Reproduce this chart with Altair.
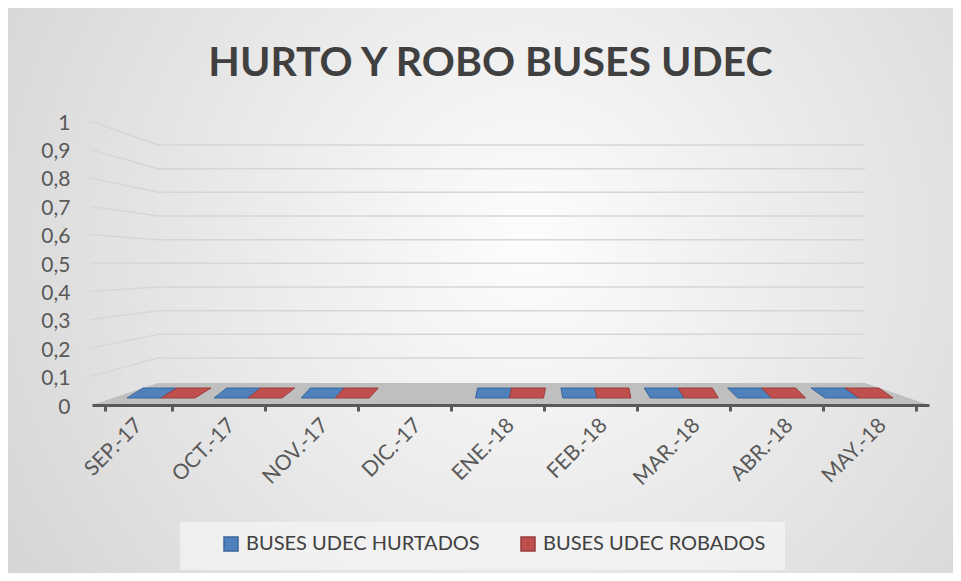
import altair as alt
import pandas as pd

# ---- data ----
months = ["SEP.-17", "OCT.-17", "NOV.-17", "DIC.-17", "ENE.-18",
          "FEB.-18", "MAR.-18", "ABR.-18", "MAY.-18"]
series = ["BUSES UDEC HURTADOS", "BUSES UDEC ROBADOS"]
hurtados = [0, 0, 0, None, 0, 0, 0, 0, 0]
robados = [0, 0, 0, None, 0, 0, 0, 0, 0]
y_ticks = [0, 0.1, 0.2, 0.3, 0.4, 0.5, 0.6, 0.7, 0.8, 0.9, 1]

rows = []
for m, h, r in zip(months, hurtados, robados):
    rows.append({"mes": m, "serie": series[0], "valor": h})
    rows.append({"mes": m, "serie": series[1], "valor": r})
df = pd.DataFrame(rows)
grid_df = pd.DataFrame({"v": y_ticks[1:]})
axis_df = pd.DataFrame({"mes": months})
one = pd.DataFrame({"k": [0]})

# ---- layout constants (pixels) ----
W, H = 837, 284
PAD = {"left": 84, "top": 113, "right": 24, "bottom": 168}
FONT = "Lato"

# perspective slant of the flat 3D columns (style only)
slants = [16, 12.5, 9, 5.5, 2, -2, -6, -10, -14]
hh = 0.294
paths = []
for d in slants:
    hd = d / 34.0
    paths.append(f"M {-1-hd:.3f} {hh} L {1-hd:.3f} {hh} L {1+hd:.3f} {-hh} L {-1+hd:.3f} {-hh} Z")

yscale = alt.Scale(domain=[0, 1], nice=False, zero=True)
yaxis = alt.Axis(title=None, values=y_ticks, domain=False, ticks=False, grid=False,
                 labelFont=FONT, labelFontSize=21, labelColor="#595959",
                 labelPadding=22, labelOffset=2, zindex=2,
                 labelExpr="replace(format(datum.value, '.1~f'), '.', ',')")

bg = alt.Chart(one).mark_rect(
    color={"gradient": "radial", "x1": 0.55, "y1": 0.45, "x2": 0.55, "y2": 0.45,
           "r1": 0, "r2": 0.75,
           "stops": [{"offset": 0, "color": "#fdfdfd"}, {"offset": 1, "color": "#cfcfcf"}]},
).encode(x=alt.value(-PAD["left"]), x2=alt.value(W + PAD["right"]),
         y=alt.value(-PAD["top"]), y2=alt.value(H + PAD["bottom"]))

floor_path = "M -1 0.0263 L 1 0.0263 L 0.847 -0.0263 L -0.842 -0.0263 Z"
floor = alt.Chart(one).mark_point(
    shape=floor_path, filled=True, color="#bfbfbf", opacity=1, size=W * W
).encode(x=alt.value(W / 2), y=alt.value(273))

grid_back = alt.Chart(grid_df).transform_calculate(
    vb="0.082 + 0.8335 * datum.v"
).mark_rule(color="#d6d6d6", strokeWidth=1.5).encode(
    y=alt.Y("vb:Q", scale=yscale, axis=yaxis),
    x=alt.value(66), x2=alt.value(773)
)
grid_slant = alt.Chart(grid_df).transform_calculate(
    vb="0.082 + 0.8335 * datum.v"
).mark_rule(color="#d6d6d6", strokeWidth=1.5).encode(
    y=alt.Y("v:Q", scale=yscale, axis=yaxis),
    y2="vb:Q",
    x=alt.value(-2), x2=alt.value(66)
)

legend_box = alt.Chart(one).mark_rect(color="#f4f4f4", opacity=0.75).encode(
    x=alt.value(88), x2=alt.value(693), y=alt.value(401), y2=alt.value(449)
)

# front edge category axis (full floor width)
cat_axis = alt.Chart(axis_df).mark_point(opacity=0).encode(
    x=alt.X("mes:N", sort=months,
            scale=alt.Scale(domain=months, paddingInner=0.28, paddingOuter=0.14),
            axis=alt.Axis(title=None, labelAngle=-45, labelAlign="right",
                          labelBaseline="middle", labelFont=FONT, labelFontSize=21,
                          labelColor="#595959", labelPadding=11, zindex=2,
                          domainColor="#595959", domainWidth=3,
                          tickColor="#595959", tickWidth=3, tickSize=6,
                          tickBand="extent")),
    y=alt.value(H)
)

leg = dict(title=None, orient="none", legendX=117, legendY=401,
           direction="horizontal", symbolType="square",
           symbolSize=196, symbolStrokeWidth=1.5,
           labelFont=FONT, labelFontSize=20, labelColor="#404040",
           labelOffset=5, columnPadding=38, padding=12, labelLimit=400)

# columns sit deeper on the floor -> narrower category range (perspective)
bars = alt.Chart(df).mark_point(filled=True, opacity=1, strokeWidth=1, size=1156).encode(
    x=alt.X("mes:N", sort=months,
            scale=alt.Scale(domain=months, range=[34.3, 802.7],
                            paddingInner=0.204, paddingOuter=0.102),
            axis=None),
    xOffset=alt.XOffset("serie:N", scale=alt.Scale(type="point", domain=series, padding=0.5)),
    y=alt.Y("valor:Q", scale=yscale, axis=yaxis),
    yOffset=alt.value(-12),
    shape=alt.Shape("mes:N", scale=alt.Scale(domain=months, range=paths), legend=None),
    color=alt.Color("serie:N", scale=alt.Scale(domain=series, range=["#4f81bd", "#c0504d"]),
                    legend=alt.Legend(**leg)),
    stroke=alt.Stroke("serie:N", scale=alt.Scale(domain=series, range=["#3a679c", "#9b3d3a"]),
                      legend=alt.Legend(**leg)),
)

chart = alt.layer(bg, floor, grid_back, grid_slant, legend_box, cat_axis, bars).resolve_scale(
    x="independent", shape="independent"
).properties(
    width=W, height=H,
    autosize=alt.AutoSizeParams(type="none"),
    padding=PAD,
    background="#e8e8e8",
    title=alt.Title("HURTO Y ROBO BUSES UDEC", font=FONT, fontSize=41, fontWeight="bold",
                    color="#404040", anchor="middle", frame="group", offset=-109,
                    baseline="alphabetic", dx=-20),
).configure_view(stroke=None)

chart.save("out.html", embed_options={"renderer": "svg", "actions": False})
